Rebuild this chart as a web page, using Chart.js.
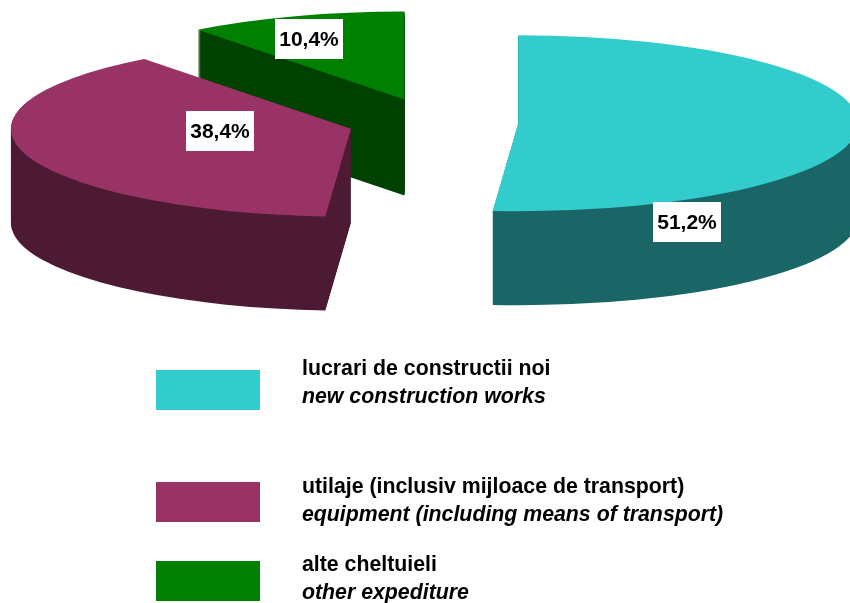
<!DOCTYPE html>
<html>
<head>
<meta charset="utf-8">
<title>Chart</title>
<script src="https://cdn.jsdelivr.net/npm/chart.js@4/dist/chart.umd.min.js"></script>
<style>
  html, body { margin: 0; padding: 0; background: #fff; overflow: hidden; }
  #wrap { position: relative; width: 850px; height: 603px; }
</style>
</head>
<body>
<div id="wrap"><canvas id="pie" width="850" height="603"></canvas></div>
<script>
// data
const values = [51.2, 38.4, 10.4];
const valueLabels = ['51,2%', '38,4%', '10,4%'];
const namesRo = ['lucrari de constructii noi', 'utilaje (inclusiv mijloace de transport)', 'alte cheltuieli'];
const namesEn = ['new construction works', 'equipment (including means of transport)', 'other expediture'];

// colours
const topColors = ['#33CCCC', '#993366', '#008000'];
const sideColors = ['#1A6666', '#4D1A33', '#004000'];

// layout of the fake 3D pie
const radius = 340;
const squash = 88 / 340;
const centerY = 122.4;
const depths = [94, 94, 96];
const explode = [84, 87, 93];
const drawOrder = [2, 1, 0];
const labelBoxes = [[653, 202], [186, 111], [275, 19]];
const legendRows = [370, 482, 561];
const legendBaselines = [375, 493, 571];

function drawSlice(ctx, arc, i, color, shift) {
    const half = (arc.startAngle + arc.endAngle) / 2;
    const original = arc.options;
    arc.options = Object.assign(Object.create(original), { backgroundColor: color });
    ctx.save();
    ctx.translate(0, centerY + shift);
    ctx.scale(1, squash);
    ctx.translate(0, -arc.y);
    ctx.translate(Math.cos(half) * explode[i], Math.sin(half) * explode[i]);
    arc.draw(ctx);
    ctx.restore();
    arc.options = original;
}

// stack the side on a spare canvas, then flatten it to one colour so the edges don't band
function drawSide(ctx, arc, i) {
    const spare = document.createElement('canvas');
    spare.width = ctx.canvas.width;
    spare.height = ctx.canvas.height;
    const sctx = spare.getContext('2d');
    for (let d = depths[i]; d > 0; d--) {
        drawSlice(sctx, arc, i, sideColors[i], d);
    }
    sctx.globalCompositeOperation = 'source-atop';
    sctx.fillStyle = sideColors[i];
    sctx.fillRect(0, 0, spare.width, spare.height);
    ctx.drawImage(spare, 0, 0);
}

const pie3d = {
    id: 'pie3d',
    beforeDatasetsDraw(chart) {
        const ctx = chart.ctx;
        const arcs = chart.getDatasetMeta(0).data;
        drawOrder.forEach(i => {
            drawSide(ctx, arcs[i], i);
            drawSlice(ctx, arcs[i], i, topColors[i], 0);
        });
        return false;
    },
    afterDraw(chart) {
        const ctx = chart.ctx;
        ctx.save();

        // value labels
        ctx.textBaseline = 'alphabetic';
        ctx.textAlign = 'center';
        ctx.font = 'bold 21px "Liberation Sans"';
        valueLabels.forEach((text, i) => {
            const [x, y] = labelBoxes[i];
            ctx.fillStyle = '#fff';
            ctx.fillRect(x, y, 68, 40);
            ctx.fillStyle = '#000';
            ctx.fillText(text, x + 34, y + 27);
        });

        // legend
        ctx.textAlign = 'left';
        legendRows.forEach((y, i) => {
            ctx.fillStyle = topColors[i];
            ctx.fillRect(156, y, 104, 40);
            ctx.fillStyle = '#000';
            ctx.font = 'bold 21.3px "Liberation Sans"';
            ctx.fillText(namesRo[i], 302, legendBaselines[i]);
            ctx.font = 'italic bold 21.3px "Liberation Sans"';
            ctx.fillText(namesEn[i], 302, legendBaselines[i] + 28);
        });
        ctx.restore();
    }
};

new Chart(document.getElementById('pie').getContext('2d'), {
    type: 'pie',
    data: {
        labels: namesRo,
        datasets: [{
            data: values,
            backgroundColor: topColors,
            borderWidth: 0
        }]
    },
    options: {
        responsive: false,
        animation: false,
        radius: radius,
        layout: { padding: { left: 18.6 } },
        plugins: { legend: { display: false }, tooltip: { enabled: false } }
    },
    plugins: [pie3d]
});
</script>
</body>
</html>
